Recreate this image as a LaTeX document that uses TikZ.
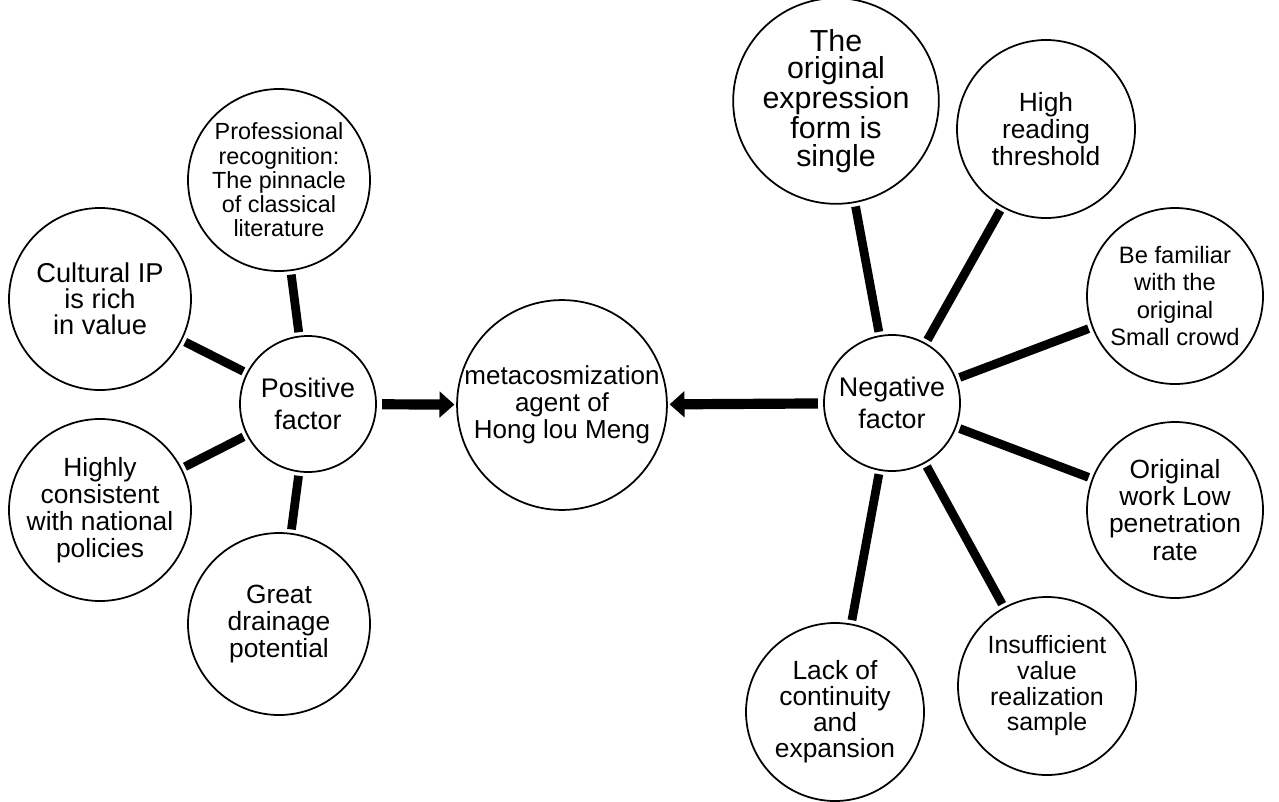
\documentclass[tikz,border=0pt]{standalone}
\usepackage{fontspec}
\setmainfont{Liberation Sans}
\usetikzlibrary{arrows.meta}
\tikzset{
  every picture/.style={line width=1pt},
  bubble/.style={draw, circle, align=center, inner sep=0pt, minimum size=#1, font=\fontsize{15}{15.4}\selectfont},
  bubble/.default=3.64cm,
  link/.style={line width=5pt, shorten <=2pt, shorten >=2pt},
  push/.style={-{Triangle[length=8.5pt, width=14.5pt]}, line width=5.8pt, shorten <=3pt, shorten >=1pt},
}

\begin{document}
\begin{tikzpicture}[
  hub/.style={bubble=2.72cm, font=\fontsize{15.3}{18}\selectfont},
]
  \useasboundingbox (0,0) rectangle (25.58,-16.02);

  % centre
  \node[bubble=4.16cm, font=\fontsize{14.8}{15.4}\selectfont] (meta) at (11.24,-8.10) {metacosmization\\ agent of\\ Hong lou Meng};

  % positive side
  \node[hub] (pos) at (6.16,-8.08) {Positive\\ factor};
  \node[bubble, font=\fontsize{13.3}{13.8}\selectfont] (prof) at (5.58,-3.60) {Professional\\ recognition:\\ The pinnacle\\ of classical\\ literature};
  \node[bubble, font=\fontsize{15.5}{14.8}\selectfont] (cult) at (2.00,-5.98) {Cultural IP\\ is rich\\ in value};
  \node[bubble] (pol) at (2.00,-10.20) {Highly\\ consistent\\ with national\\ policies};
  \node[bubble] (drain) at (5.58,-12.48) {Great\\ drainage\\ potential};

  % negative side
  \node[hub] (neg) at (17.84,-8.06) {Negative\\ factor};
  \node[bubble=3.56cm, font=\fontsize{17.3}{15.8}\selectfont] (form) at (16.72,-2.02) {The\\ original\\ expression\\ form is\\ single};
  \node[bubble=3.56cm] (thr) at (20.92,-2.58) {High\\ reading\\ threshold};
  \node[bubble=3.52cm, font=\fontsize{13.5}{15.4}\selectfont] (crowd) at (23.50,-5.92) {Be familiar\\ with the\\ original\\ Small crowd};
  \node[bubble=3.52cm] (pen) at (23.50,-10.20) {Original\\ work Low\\ penetration\\ rate};
  \node[bubble=3.56cm, font=\fontsize{14.2}{14.6}\selectfont] (samp) at (20.94,-13.72) {Insufficient\\ value\\ realization\\ sample};
  \node[bubble=3.56cm, font=\fontsize{15}{14.8}\selectfont] (cont) at (16.70,-14.24) {Lack of\\ continuity\\ and\\ expansion};

  \draw[link] (pos) -- (prof);
  \draw[link] (pos) -- (cult);
  \draw[link] (pos) -- (pol);
  \draw[link] (pos) -- (drain);

  \draw[link] (neg) -- (form);
  \draw[link] (neg) -- (thr);
  \draw[link] (neg) -- (crowd);
  \draw[link] (neg) -- (pen);
  \draw[link] (neg) -- (samp);
  \draw[link] (neg) -- (cont);

  \draw[push] (pos) -- (meta);
  \draw[push] (neg) -- (meta);
\end{tikzpicture}
\end{document}
